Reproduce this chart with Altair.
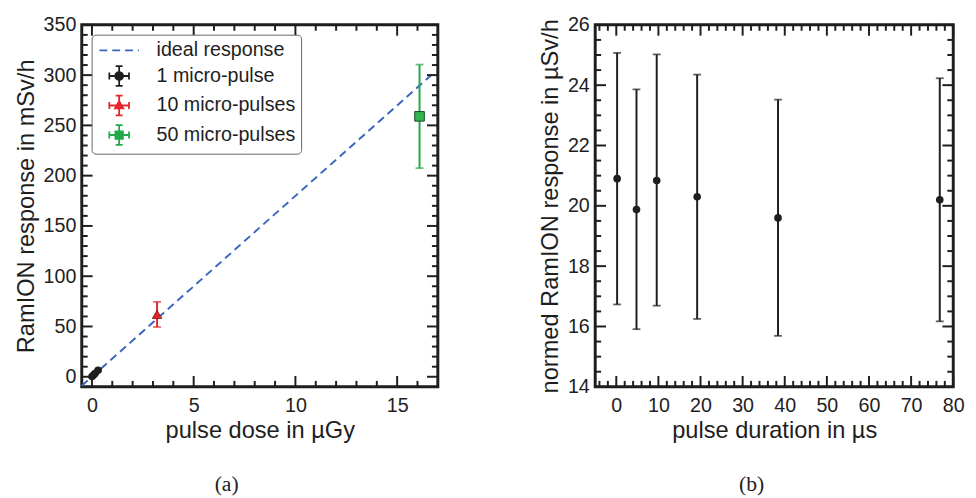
import altair as alt
import pandas as pd

INK = "#1e1e1e"
FONT = "Liberation Sans"

# ---------------- panel (a) data ----------------
series_names = ["ideal response", "1 micro-pulse", "10 micro-pulses", "50 micro-pulses"]
series_colors = ["#3b65c0", "#1e1e1e", "#e4262b", "#22a94a"]
legend_paths = [
    "M-2,0H2",
    "M-1,0H1M0,-1V1M-0.35,-1H0.35M-0.35,1H0.35M-1,-0.35V0.35M1,-0.35V0.35"
    "M-0.4,0A0.4,0.4,0,1,0,0.4,0A0.4,0.4,0,1,0,-0.4,0Z",
    "M-1,0H1M0,-1V1M-0.35,-1H0.35M-0.35,1H0.35M-1,-0.35V0.35M1,-0.35V0.35"
    "M0,-0.45L0.42,0.3L-0.42,0.3Z",
    "M-1,0H1M0,-1V1M-0.35,-1H0.35M-0.35,1H0.35M-1,-0.35V0.35M1,-0.35V0.35"
    "M-0.38,-0.38H0.38V0.38H-0.38Z",
]
legend_dashes = [[8, 5], [1, 0], [1, 0], [1, 0]]

ideal_x = [-0.5, 16.7]
ideal_y = [-9.0, 300.5]

p1_dose = [0.004, 0.08, 0.15, 0.3]
p1_resp = [0.3, 1.7, 3.2, 6.4]
p1_err = [0.3, 0.5, 0.6, 0.9]

p10_dose = [3.2]
p10_resp = [62.0]
p10_err = [12.5]

p50_dose = [16.1]
p50_resp = [259.0]
p50_err = [51.5]

# ---------------- panel (b) data ----------------
dur = [0.2, 4.8, 9.6, 19.2, 38.4, 76.8]
normed = [20.9, 19.88, 20.84, 20.3, 19.6, 20.2]
normed_lo = [16.73, 15.91, 16.69, 16.25, 15.69, 16.17]
normed_hi = [25.07, 23.86, 25.02, 24.35, 23.52, 24.23]

# ---------------- ticks ----------------
a_x_dom = [-0.5, 17]
a_y_dom = [-10, 350]
a_x_major = [0, 5, 10, 15]
a_x_minor = [v for v in range(0, 17) if v % 5 != 0]
a_y_major = list(range(0, 351, 50))
a_y_minor = [v for v in range(10, 350, 10) if v % 50 != 0]

b_x_dom = [-5, 80]
b_y_dom = [14, 26]
b_x_major = list(range(0, 81, 10))
b_x_minor = [v for v in range(-4, 80, 2) if v % 10 != 0]
b_y_major = list(range(14, 27, 2))
b_y_minor = [v / 2 for v in range(29, 52) if v % 4 != 0]

W_A, W_B, H = 362, 364, 368


def lin(dom):
    return alt.Scale(domain=dom, nice=False, zero=False)


def frame_ticks(X, Y, xmaj, xmin, ymaj, ymin, W):
    out = []
    for vals, L in ((xmaj, 11), (xmin, 6)):
        b = alt.Chart(pd.DataFrame({"v": vals})).mark_rule(color=INK, strokeWidth=2)
        out.append(b.encode(x=X("v:Q"), y=alt.value(H), y2=alt.value(H - L)))
        out.append(b.encode(x=X("v:Q"), y=alt.value(0), y2=alt.value(L)))
    for vals, L in ((ymaj, 11), (ymin, 6)):
        b = alt.Chart(pd.DataFrame({"v": vals})).mark_rule(color=INK, strokeWidth=2)
        out.append(b.encode(y=Y("v:Q"), x=alt.value(0), x2=alt.value(L)))
        out.append(b.encode(y=Y("v:Q"), x=alt.value(W), x2=alt.value(W - L)))
    return out


def errbars(df, X, Y, color, cap=8):
    rule = alt.Chart(df).mark_rule(color=color, strokeWidth=2).encode(
        x=X("x:Q"), y=Y("lo:Q"), y2="hi:Q")
    lo = alt.Chart(df).mark_tick(color=color, orient="horizontal", size=cap, thickness=1.8).encode(
        x=X("x:Q"), y=Y("lo:Q"))
    hi = alt.Chart(df).mark_tick(color=color, orient="horizontal", size=cap, thickness=1.8).encode(
        x=X("x:Q"), y=Y("hi:Q"))
    return [rule, lo, hi]


def mk(xv, yv, ev):
    return pd.DataFrame({"x": xv, "y": yv,
                         "lo": [a - e for a, e in zip(yv, ev)],
                         "hi": [a + e for a, e in zip(yv, ev)]})


def make_x(dom, vals, title):
    sc = lin(dom)
    ax = alt.Axis(values=vals, title=title)
    return lambda f: alt.X(f, scale=sc, axis=ax, title=title)


def make_y(dom, vals, title):
    sc = lin(dom)
    ax = alt.Axis(values=vals, title=title)
    return lambda f: alt.Y(f, scale=sc, axis=ax, title=title)


# ---------------- panel (a) ----------------
XA = make_x(a_x_dom, a_x_major, "pulse dose in µGy")
YA = make_y(a_y_dom, a_y_major, "RamION response in mSv/h")

ideal = alt.Chart(pd.DataFrame({"x": ideal_x, "y": ideal_y})).mark_line(
    color=series_colors[0], strokeWidth=2, strokeDash=[8, 5]).encode(x=XA("x:Q"), y=YA("y:Q"))

d1 = mk(p1_dose, p1_resp, p1_err)
d10 = mk(p10_dose, p10_resp, p10_err)
d50 = mk(p50_dose, p50_resp, p50_err)

pt1 = alt.Chart(d1).mark_point(filled=True, shape="circle", size=60, color=INK, opacity=1).encode(
    x=XA("x:Q"), y=YA("y:Q"))
pt10 = alt.Chart(d10).mark_point(filled=True, shape="triangle-up", size=95, fill=series_colors[2],
                                 stroke="#7a1515", strokeWidth=0.8, opacity=1).encode(
    x=XA("x:Q"), y=YA("y:Q"))
pt50 = alt.Chart(d50).mark_point(filled=True, shape="square", size=95, fill="#34b552",
                                 stroke="#124d22", strokeWidth=1, opacity=1).encode(
    x=XA("x:Q"), y=YA("y:Q"))

leg = alt.Legend(orient="none", legendX=10, legendY=10, title=None)
legend_layer = alt.Chart(pd.DataFrame({"series": series_names})).mark_point(
    filled=True, opacity=0).encode(
    fill=alt.Fill("series:N", scale=alt.Scale(domain=series_names, range=series_colors), legend=leg),
    stroke=alt.Stroke("series:N", scale=alt.Scale(domain=series_names, range=series_colors), legend=leg),
    shape=alt.Shape("series:N", scale=alt.Scale(domain=series_names, range=legend_paths), legend=leg),
    strokeDash=alt.StrokeDash("series:N", scale=alt.Scale(domain=series_names, range=legend_dashes), legend=leg),
)

caption = dict(orient="bottom", anchor="middle", frame="bounds", font="Liberation Serif",
               fontSize=22, fontWeight="normal", color=INK, offset=32)

panel_a = alt.layer(
    ideal,
    *errbars(d1, XA, YA, INK, 7), pt1,
    *errbars(d10, XA, YA, series_colors[2]), pt10,
    *errbars(d50, XA, YA, series_colors[3]), pt50,
    *frame_ticks(XA, YA, a_x_major, a_x_minor, a_y_major, a_y_minor, W_A),
    legend_layer,
).properties(width=W_A, height=H, title=alt.TitleParams("(a)", **caption))

# ---------------- panel (b) ----------------
XB = make_x(b_x_dom, b_x_major, "pulse duration in µs")
YB = make_y(b_y_dom, b_y_major, "normed RamION response in µSv/h")
db = pd.DataFrame({"x": dur, "y": normed, "lo": normed_lo, "hi": normed_hi})

ptb = alt.Chart(db).mark_point(filled=True, shape="circle", size=60, color=INK, opacity=1).encode(
    x=XB("x:Q"), y=YB("y:Q"))

panel_b = alt.layer(
    *errbars(db, XB, YB, INK, 8), ptb,
    *frame_ticks(XB, YB, b_x_major, b_x_minor, b_y_major, b_y_minor, W_B),
).properties(width=W_B, height=H, title=alt.TitleParams("(b)", **caption))

chart = alt.hconcat(panel_a, panel_b, spacing=98).resolve_scale(
    x="independent", y="independent"
).configure_view(
    stroke=INK, strokeWidth=3
).configure_axis(
    grid=False, domain=False, ticks=False, labelFlush=False,
    labelFont=FONT, labelFontSize=20, labelColor=INK, labelPadding=6,
    titleFont=FONT, titleFontSize=24, titleFontWeight="normal", titleColor=INK, titlePadding=5,
).configure_axisX(
    labelPadding=9, titlePadding=4,
).configure_legend(
    labelFont=FONT, labelFontSize=20, labelColor=INK,
    symbolSize=400, symbolStrokeWidth=1.8, symbolOpacity=1,
    symbolOffset=12, labelOffset=27, padding=5, rowPadding=2,
    strokeColor="#666666", fillColor="white", cornerRadius=4,
).properties(padding={"left": 5, "right": 2, "top": 1, "bottom": 2})

chart.save("out.html", embed_options={"renderer": "svg", "actions": False})
